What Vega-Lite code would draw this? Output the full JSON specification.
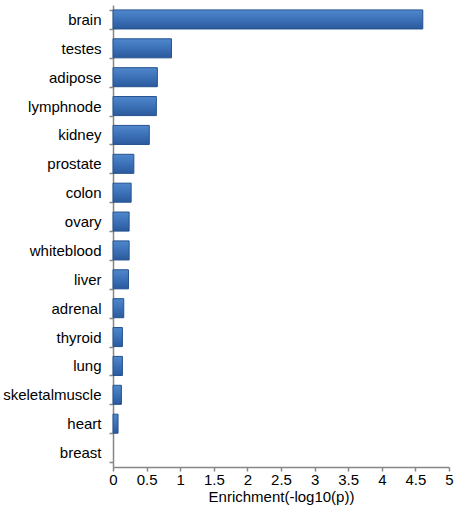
{
  "$schema": "https://vega.github.io/schema/vega-lite/v6.json",
  "width": 336,
  "height": 462,
  "autosize": {"type": "none"},
  "padding": {"left": 113, "top": 5, "right": 5, "bottom": 46},
  "background": "white",
  "config": {"view": {"stroke": null}, "font": "Liberation Sans"},
  "data": {"values": [
    {"tissue": "brain", "enrichment": 4.61},
    {"tissue": "testes", "enrichment": 0.87},
    {"tissue": "adipose", "enrichment": 0.66},
    {"tissue": "lymphnode", "enrichment": 0.645},
    {"tissue": "kidney", "enrichment": 0.54},
    {"tissue": "prostate", "enrichment": 0.31},
    {"tissue": "colon", "enrichment": 0.27},
    {"tissue": "ovary", "enrichment": 0.24},
    {"tissue": "whiteblood", "enrichment": 0.24},
    {"tissue": "liver", "enrichment": 0.23},
    {"tissue": "adrenal", "enrichment": 0.16},
    {"tissue": "thyroid", "enrichment": 0.14},
    {"tissue": "lung", "enrichment": 0.14},
    {"tissue": "skeletalmuscle", "enrichment": 0.125},
    {"tissue": "heart", "enrichment": 0.075},
    {"tissue": "breast", "enrichment": 0}
  ]},
  "mark": {
    "type": "bar",
    "stroke": "#24528f",
    "color": {
      "gradient": "linear", "x1": 0, "y1": 0, "x2": 0, "y2": 1,
      "stops": [
        {"offset": 0, "color": "#5088cc"},
        {"offset": 0.5, "color": "#3c71b8"},
        {"offset": 1, "color": "#2b5a9c"}
      ]
    }
  },
  "encoding": {
    "strokeWidth": {"condition": {"test": "datum.enrichment > 0", "value": 1}, "value": 0},
    "y": {
      "field": "tissue", "type": "nominal", "sort": null,
      "scale": {"paddingInner": 0.34, "paddingOuter": 0.17},
      "axis": {
        "title": null, "tickBand": "extent", "tickSize": 4, "labelPadding": 8,
        "labelFontSize": 15, "labelColor": "#000000", "domainColor": "#868686",
        "domainWidth": 1.5, "tickColor": "#868686", "tickWidth": 1.5
      }
    },
    "x": {
      "field": "enrichment", "type": "quantitative",
      "scale": {"domain": [0, 5], "nice": false},
      "axis": {
        "title": "Enrichment(-log10(p))", "values": [0, 0.5, 1, 1.5, 2, 2.5, 3, 3.5, 4, 4.5, 5],
        "format": ".1~f", "grid": false, "tickSize": 4, "labelPadding": 1,
        "labelFontSize": 15, "labelColor": "#000000", "titleFontSize": 15,
        "titleFontWeight": "normal", "titleColor": "#000000", "titlePadding": 2,
        "domainColor": "#868686", "domainWidth": 1.5, "tickColor": "#868686", "tickWidth": 1.5,
        "labelFlush": false
      }
    }
  }
}
